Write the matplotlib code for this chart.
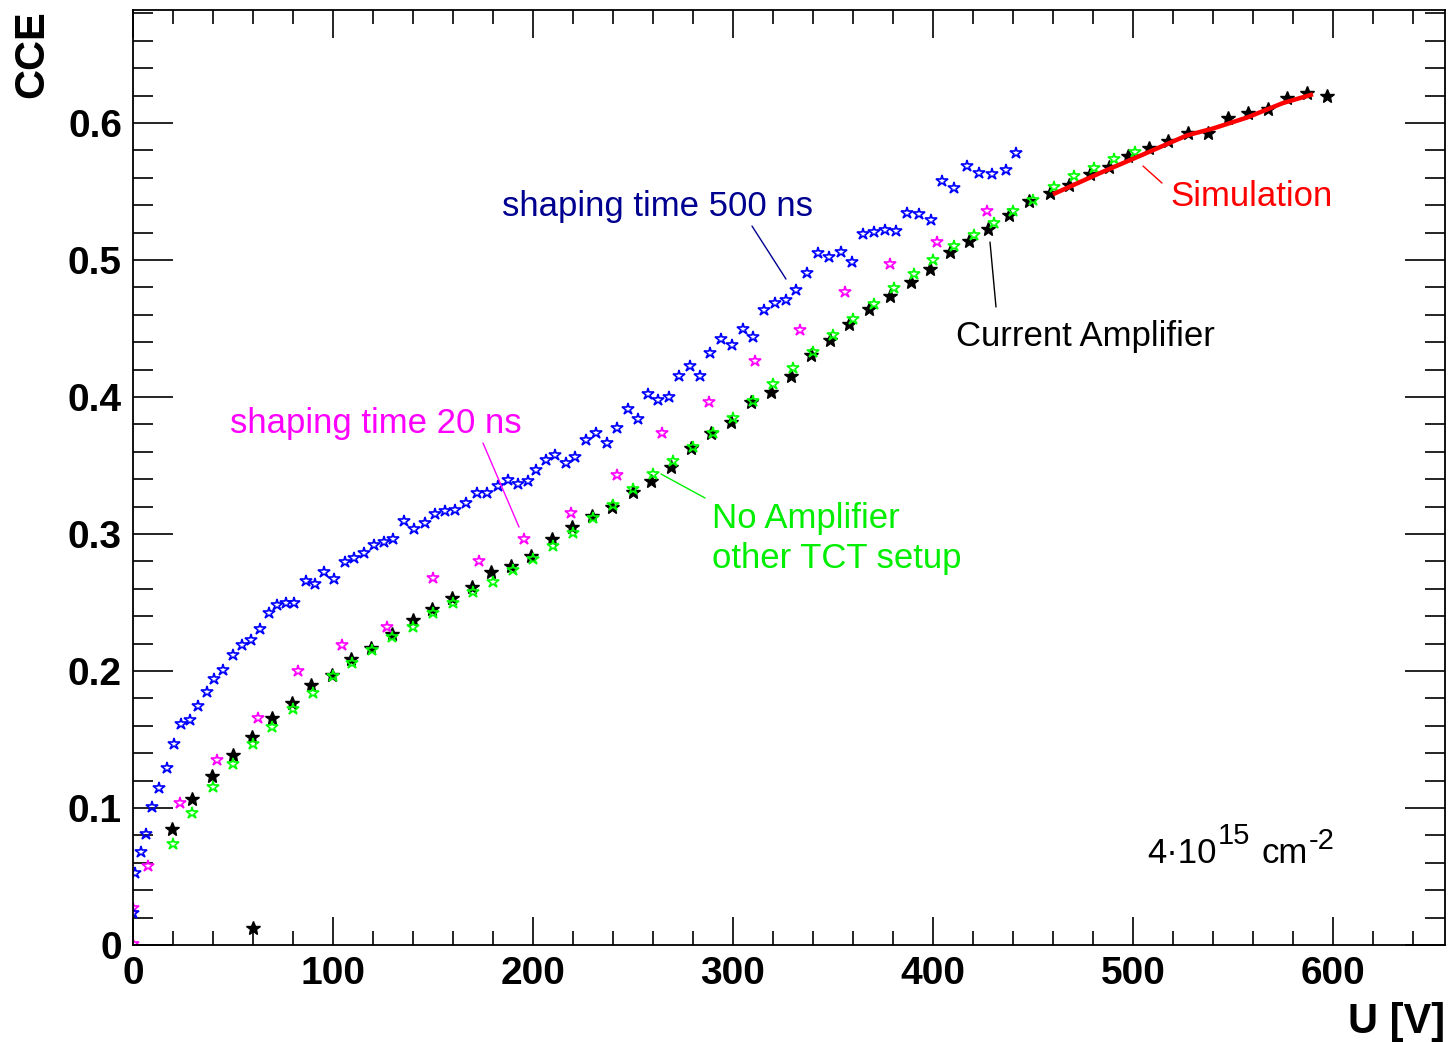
import matplotlib
matplotlib.use("Agg")
import matplotlib.pyplot as plt
from matplotlib.ticker import MultipleLocator, FuncFormatter

plt.rcParams['font.family'] = ['Liberation Sans', 'DejaVu Sans']

# shaping time 500 ns (blue, open stars)
u_500 = [0, 1, 4, 6.5, 9.5, 13, 17, 20.5, 24, 28.5, 32.5, 37, 40.5, 45, 50, 54.5, 59, 63.5,
         68, 72, 76.5, 80.5, 86.5, 91, 95.5, 100.5, 106, 110.5, 115.5, 120.5, 125.5, 130,
         135.5, 140.5, 146, 151, 156, 161, 166.5, 172, 177, 182.5, 187.5, 192.5, 197.5,
         201.5, 206.5, 211, 216.5, 221, 226.5, 231.5, 237, 242, 247.5, 252.5, 257.5, 262.5,
         268, 273, 278.5, 283.5, 288.5, 294, 299.5, 305, 310, 315.5, 321, 326.5, 331.5,
         337, 342.5, 348, 354, 359.5, 365, 370.5, 376, 381.5, 387, 393, 399, 404.5, 410.5,
         417, 423, 429.5, 436.5, 441.5]
cce_500 = [0.0235, 0.0525, 0.068, 0.081, 0.1007, 0.1146, 0.129, 0.1467, 0.161, 0.164, 0.1745,
           0.185, 0.194, 0.2007, 0.2114, 0.219, 0.2228, 0.231, 0.242, 0.248, 0.2496, 0.2496,
           0.2657, 0.2635, 0.2725, 0.267, 0.2796, 0.2828, 0.286, 0.292, 0.294, 0.296, 0.3095,
           0.3036, 0.308, 0.3146, 0.3168, 0.3175, 0.3226, 0.33, 0.33, 0.335, 0.3394, 0.3365,
           0.3387, 0.3467, 0.354, 0.3577, 0.352, 0.356, 0.3686, 0.374, 0.3664, 0.3774, 0.391,
           0.384, 0.402, 0.398, 0.400, 0.415, 0.4226, 0.415, 0.432, 0.442, 0.438, 0.450, 0.444,
           0.4635, 0.4686, 0.4705, 0.478, 0.4905, 0.505, 0.502, 0.506, 0.4985, 0.519, 0.5205,
           0.522, 0.521, 0.5343, 0.5336, 0.529, 0.558, 0.5526, 0.5686, 0.5635, 0.5628, 0.5657,
           0.578]

# shaping time 20 ns (magenta, open stars)
u_20 = [0, 0, 7.5, 23.5, 42, 62.5, 82.5, 104.5, 127, 150, 173, 195.5, 219, 242, 264.5, 288,
        311, 333.5, 356, 378.5, 402, 427]
cce_20 = [0.0005, 0.027, 0.058, 0.104, 0.135, 0.166, 0.200, 0.219, 0.232, 0.268, 0.280, 0.296,
          0.315, 0.343, 0.374, 0.396, 0.426, 0.449, 0.477, 0.497, 0.513, 0.536]

# current amplifier (black, filled stars)
u_cur = [19.5, 29.5, 39.5, 50, 59.5, 60, 69.5, 79.5, 89, 99.5, 109, 119, 129.5, 140, 149.5,
         159.5, 169.5, 179, 189, 199, 209.5, 219.5, 229.5, 239.5, 250, 259, 269, 279, 289, 299,
         309, 319, 329, 339, 348.5, 358, 368, 378.5, 389, 398.5, 408.5, 418, 427.5, 438, 448,
         458.5, 468, 478.5, 488, 497.5, 508, 517.5, 527.5, 537.5, 547.5, 557.5, 567.5, 577,
         587, 597]
cce_cur = [0.0847, 0.1066, 0.123, 0.139, 0.152, 0.0124, 0.166, 0.177, 0.190, 0.197, 0.209,
           0.217, 0.227, 0.237, 0.245, 0.253, 0.261, 0.272, 0.277, 0.284, 0.296, 0.305, 0.313,
           0.320, 0.331, 0.339, 0.349, 0.363, 0.374, 0.382, 0.396, 0.404, 0.415, 0.4307,
           0.4416, 0.4533, 0.4642, 0.4737, 0.484, 0.4934, 0.506, 0.514, 0.523, 0.533, 0.543,
           0.549, 0.555, 0.563, 0.568, 0.576, 0.582, 0.587, 0.593, 0.593, 0.604, 0.607, 0.610,
           0.618, 0.622, 0.620]

# no amplifier, other TCT setup (green, open stars)
u_noamp = [20, 29.5, 40, 50, 60, 69.5, 80, 90, 100, 109.5, 119.5, 129.5, 140, 150, 160, 170,
           180, 190, 200, 210, 220, 230, 240, 250, 260, 270, 280, 290, 300, 310, 320, 330, 340,
           350, 360, 370.5, 380.5, 390.5, 400, 410.5, 420.5, 430.5, 440, 450, 460.5, 470.5,
           480.5, 490.5, 501]
cce_noamp = [0.0737, 0.096, 0.115, 0.132, 0.147, 0.159, 0.172, 0.184, 0.196, 0.206, 0.215,
             0.225, 0.232, 0.242, 0.250, 0.258, 0.265, 0.274, 0.282, 0.291, 0.301, 0.312,
             0.321, 0.333, 0.344, 0.353, 0.3635, 0.374, 0.385, 0.397, 0.4095, 0.421, 0.433,
             0.445, 0.457, 0.468, 0.4795, 0.490, 0.500, 0.510, 0.518, 0.527, 0.536, 0.544,
             0.553, 0.561, 0.567, 0.574, 0.579]

# simulation (red line)
u_sim = [460, 483.5, 505, 527, 540, 557, 575, 590]
cce_sim = [0.548, 0.5635, 0.577, 0.591, 0.596, 0.604, 0.6146, 0.621]

fig = plt.figure(figsize=(14.49, 10.42), dpi=100)
ax = fig.add_axes([133/1449, 1 - 945/1042, (1445 - 133)/1449, (945 - 10)/1042])

ms = 9
ax.plot(u_cur, cce_cur, ls='none', marker='*', ms=ms + 1.5, color='black', mew=1.0)
ax.plot(u_noamp, cce_noamp, ls='none', marker='*', ms=ms, mfc='none', mec='#00ff00', mew=1.2)
ax.plot(u_20, cce_20, ls='none', marker='*', ms=ms, mfc='none', mec='#ff00ff', mew=1.2)
ax.plot(u_500, cce_500, ls='none', marker='*', ms=ms, mfc='none', mec='#0000ff', mew=1.2)
ax.plot(u_sim, cce_sim, color='red', lw=3.2, solid_capstyle='butt')

ax.set_xlim(0, 656)
ax.set_ylim(0, 0.6825)

ax.xaxis.set_major_locator(MultipleLocator(100))
ax.xaxis.set_minor_locator(MultipleLocator(20))
ax.yaxis.set_major_locator(MultipleLocator(0.1))
ax.yaxis.set_minor_locator(MultipleLocator(0.02))
ax.yaxis.set_major_formatter(FuncFormatter(lambda v, p: '%g' % round(v, 2)))

ax.tick_params(axis='both', which='both', direction='in', top=True, right=True,
               width=1.2, color='black')
ax.tick_params(axis='y', which='major', length=29, pad=8)
ax.tick_params(axis='y', which='minor', length=14.5)
ax.tick_params(axis='x', which='major', length=20, pad=8)
ax.tick_params(axis='x', which='minor', length=10)
for lab in ax.get_xticklabels() + ax.get_yticklabels():
    lab.set_fontsize(28)
    lab.set_fontweight('bold')
for sp in ax.spines.values():
    sp.set_linewidth(1.3)

fig.text(32/1449, 1 - 10/1042, 'CCE', rotation=90, ha='center', va='top',
         fontsize=30, fontweight='bold')
fig.text(1445/1449, 1 - 1033/1042, 'U [V]', ha='right', va='baseline',
         fontsize=30, fontweight='bold')

fs = 25
ax.text(184.5, 0.532, 'shaping time 500 ns', color='#000090', fontsize=fs, va='baseline')
ax.annotate('', xy=(326.5, 0.4861), xytext=(309.5, 0.5248),
            arrowprops=dict(arrowstyle='-', color='#000090', lw=1.0, shrinkA=0, shrinkB=0))

ax.text(48.5, 0.3737, 'shaping time 20 ns', color='#ff00ff', fontsize=fs, va='baseline')
ax.annotate('', xy=(193, 0.3051), xytext=(175, 0.3664),
            arrowprops=dict(arrowstyle='-', color='#ff00ff', lw=1.0, shrinkA=0, shrinkB=0))

ax.text(289.5, 0.3044, 'No Amplifier', color='#00ee00', fontsize=fs, va='baseline')
ax.text(289.5, 0.2752, 'other TCT setup', color='#00ee00', fontsize=fs, va='baseline')
ax.annotate('', xy=(264, 0.3438), xytext=(286, 0.3263),
            arrowprops=dict(arrowstyle='-', color='#00ee00', lw=1.0, shrinkA=0, shrinkB=0))

ax.text(411.5, 0.4372, 'Current Amplifier', color='black', fontsize=fs, va='baseline')
ax.annotate('', xy=(428.5, 0.5131), xytext=(431.5, 0.4657),
            arrowprops=dict(arrowstyle='-', color='black', lw=1.0, shrinkA=0, shrinkB=0))

ax.text(518.5, 0.5394, 'Simulation', color='red', fontsize=fs, va='baseline')
ax.annotate('', xy=(505, 0.5686), xytext=(514.5, 0.5562),
            arrowprops=dict(arrowstyle='-', color='red', lw=1.0, shrinkA=0, shrinkB=0))

# fluence label, built from pieces like the ROOT latex output
ax.text(507, 0.0599, '4\u00b710', color='black', fontsize=fs, va='baseline')
ax.text(542.5, 0.0735, '15', color='black', fontsize=21, va='baseline')
ax.text(564.5, 0.0599, 'cm', color='black', fontsize=fs, va='baseline')
ax.text(588, 0.0700, '-2', color='black', fontsize=21, va='baseline')

fig.savefig('out.png', dpi=100)
